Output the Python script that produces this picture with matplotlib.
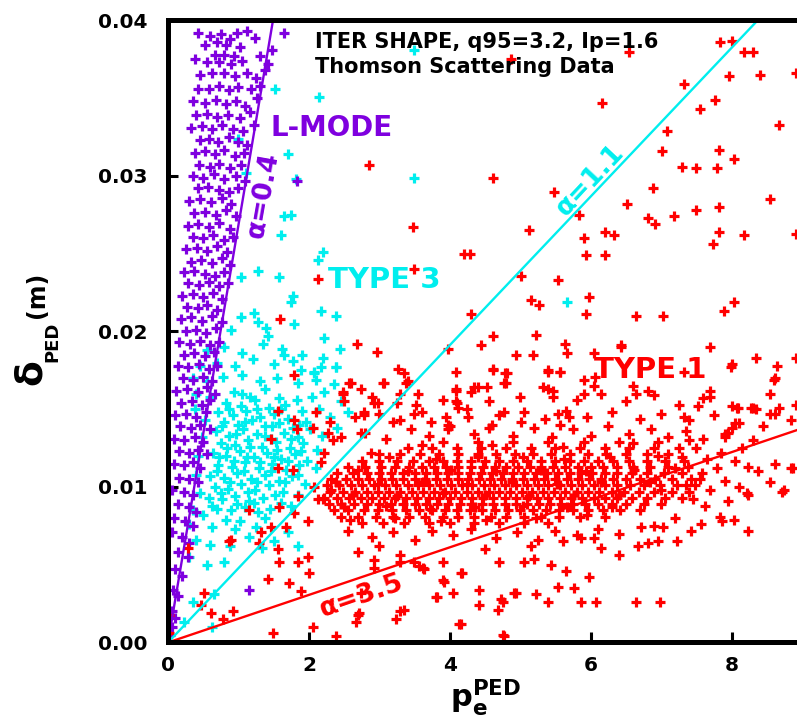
import matplotlib
matplotlib.use("Agg")
import matplotlib.pyplot as plt

PURPLE = "#7f00df"
CYAN = "#00eeee"
RED = "#ff0000"

# reference lines delta = slope * p
ALPHA_LABELS = ["α=0.4", "α=1.1", "α=3.5"]
ALPHA_SLOPES = [0.02685, 0.00478, 0.00153]

X_TICKS = [0, 2, 4, 6, 8]
Y_TICKS = [0.00, 0.01, 0.02, 0.03, 0.04]
Y_TICK_LABELS = ["0.00", "0.01", "0.02", "0.03", "0.04"]

# L-mode points (purple)
lmode_pts = [
    (0.42, 0.0392), (0.60, 0.0390), (0.75, 0.0391), (0.88, 0.0388), (0.98, 0.0392), (1.12, 0.0393),
    (1.24, 0.0389), (0.52, 0.0384), (0.70, 0.0386), (0.83, 0.0384), (1.02, 0.0383), (0.67, 0.0378),
    (0.80, 0.0378), (0.93, 0.0377), (1.48, 0.0381), (0.38, 0.0375), (0.55, 0.0373), (0.72, 0.0373),
    (0.90, 0.0372), (1.05, 0.0374), (1.30, 0.0377), (1.42, 0.0372), (0.45, 0.0365), (0.62, 0.0366),
    (0.80, 0.0366), (0.95, 0.0364), (1.12, 0.0366), (1.25, 0.0363), (1.38, 0.0368), (0.42, 0.0356),
    (0.58, 0.0356), (0.72, 0.0358), (0.86, 0.0355), (1.00, 0.0357), (1.18, 0.0356), (1.30, 0.0358),
    (0.36, 0.0348), (0.52, 0.0347), (0.68, 0.0349), (0.82, 0.0346), (0.97, 0.0348), (1.10, 0.0345),
    (1.26, 0.0350), (1.64, 0.0392), (1.83, 0.0297),
    (0.40, 0.0339), (0.55, 0.0340), (0.70, 0.0338), (0.85, 0.0339), (1.02, 0.0337), (1.17, 0.0341),
    (0.33, 0.0331), (0.48, 0.0332), (0.62, 0.0330), (0.77, 0.0333), (0.92, 0.0330), (1.07, 0.0329),
    (1.22, 0.0333), (0.45, 0.0323), (0.58, 0.0324), (0.71, 0.0322), (0.86, 0.0325), (1.00, 0.0322),
    (1.12, 0.0320), (0.38, 0.0315), (0.52, 0.0316), (0.66, 0.0314), (0.80, 0.0317), (0.95, 0.0313),
    (1.08, 0.0315), (0.44, 0.0307), (0.60, 0.0306), (0.73, 0.0308), (0.88, 0.0305), (1.03, 0.0307),
    (0.35, 0.0300), (0.50, 0.0299), (0.65, 0.0301), (0.80, 0.0298), (0.96, 0.0300), (1.10, 0.0297),
    (0.42, 0.0292), (0.57, 0.0293), (0.72, 0.0291), (0.86, 0.0290), (1.00, 0.0292), (0.30, 0.0284),
    (0.46, 0.0285), (0.61, 0.0283), (0.76, 0.0286), (0.90, 0.0282), (0.37, 0.0276), (0.52, 0.0277),
    (0.68, 0.0275), (0.83, 0.0278), (0.97, 0.0274), (0.28, 0.0268), (0.43, 0.0269), (0.58, 0.0267),
    (0.73, 0.0270), (0.88, 0.0266), (0.35, 0.0261), (0.50, 0.0260), (0.64, 0.0262), (0.79, 0.0259),
    (0.92, 0.0261), (0.26, 0.0253), (0.41, 0.0254), (0.56, 0.0252), (0.70, 0.0255), (0.84, 0.0251),
    (0.32, 0.0245), (0.47, 0.0246), (0.62, 0.0244), (0.76, 0.0247), (0.88, 0.0243),
    (0.22, 0.0238), (0.37, 0.0239), (0.52, 0.0237), (0.66, 0.0236), (0.80, 0.0238), (0.29, 0.0231),
    (0.44, 0.0230), (0.58, 0.0232), (0.72, 0.0229), (0.85, 0.0231), (0.20, 0.0223), (0.35, 0.0224),
    (0.50, 0.0222), (0.64, 0.0225), (0.77, 0.0221), (0.27, 0.0216), (0.42, 0.0215), (0.56, 0.0217),
    (0.70, 0.0214), (0.18, 0.0208), (0.33, 0.0209), (0.48, 0.0207), (0.62, 0.0210), (0.76, 0.0206),
    (0.25, 0.0200), (0.40, 0.0201), (0.54, 0.0199), (0.68, 0.0202), (0.16, 0.0193), (0.31, 0.0192),
    (0.46, 0.0194), (0.60, 0.0191), (0.72, 0.0193), (0.22, 0.0185), (0.37, 0.0186), (0.52, 0.0184),
    (0.65, 0.0187),
    (0.14, 0.0178), (0.29, 0.0177), (0.44, 0.0179), (0.58, 0.0176), (0.70, 0.0178), (0.21, 0.0170),
    (0.36, 0.0169), (0.50, 0.0171), (0.63, 0.0168), (0.12, 0.0162), (0.27, 0.0163), (0.42, 0.0161),
    (0.56, 0.0164), (0.67, 0.0160), (0.19, 0.0154), (0.34, 0.0155), (0.48, 0.0153), (0.60, 0.0156),
    (0.10, 0.0146), (0.25, 0.0147), (0.40, 0.0145), (0.54, 0.0148), (0.17, 0.0139), (0.32, 0.0138),
    (0.46, 0.0140), (0.60, 0.0137), (0.08, 0.0131), (0.23, 0.0130), (0.38, 0.0132), (0.50, 0.0129),
    (0.15, 0.0123), (0.30, 0.0122), (0.43, 0.0124), (0.55, 0.0121),
    (0.08, 0.0115), (0.22, 0.0114), (0.36, 0.0116), (0.46, 0.0112), (0.15, 0.0106), (0.30, 0.0105),
    (0.42, 0.0103), (0.05, 0.0098), (0.22, 0.0097), (0.35, 0.0095), (0.14, 0.0089), (0.30, 0.0087),
    (0.40, 0.0084), (0.08, 0.0080), (0.24, 0.0078), (0.35, 0.0075), (0.05, 0.0071), (0.20, 0.0068),
    (0.30, 0.0064), (0.14, 0.0058), (0.28, 0.0055), (0.10, 0.0047), (0.20, 0.0043), (0.07, 0.0034),
    (0.14, 0.0030), (0.05, 0.0020), (0.10, 0.0016), (0.06, 0.0010), (0.03, 0.0005), (1.15, 0.0034),
]

# Type 3 points (cyan): dense core and scattered halo
type3_core = [
    (0.93, 0.0161), (1.17, 0.0158), (1.38, 0.0163), (1.57, 0.0157),
    (0.82, 0.0154), (1.03, 0.0152), (1.24, 0.0156), (1.44, 0.0151), (1.66, 0.0153), (1.83, 0.0156),
    (0.71, 0.0148), (0.92, 0.0146), (1.11, 0.0149), (1.30, 0.0145), (1.51, 0.0147), (1.70, 0.0144),
    (1.90, 0.0149), (0.79, 0.0142), (0.99, 0.0140), (1.19, 0.0143), (1.37, 0.0139), (1.58, 0.0141),
    (1.77, 0.0138), (1.96, 0.0142), (0.68, 0.0136), (0.87, 0.0133), (1.07, 0.0137), (1.26, 0.0134),
    (1.46, 0.0131), (1.64, 0.0135), (1.84, 0.0132), (2.02, 0.0137), (0.75, 0.0128), (0.95, 0.0127),
    (1.14, 0.0130), (1.34, 0.0126), (1.53, 0.0129), (1.73, 0.0125), (1.91, 0.0128), (0.64, 0.0122),
    (0.83, 0.0120), (1.02, 0.0123), (1.22, 0.0119), (1.41, 0.0122), (1.61, 0.0118), (1.80, 0.0121),
    (1.98, 0.0117), (0.71, 0.0114), (0.91, 0.0113), (1.09, 0.0116), (1.29, 0.0112), (1.48, 0.0115),
    (1.68, 0.0111), (1.86, 0.0114), (0.60, 0.0107), (0.79, 0.0106), (0.98, 0.0109), (1.18, 0.0105),
    (1.37, 0.0108), (1.57, 0.0104), (1.76, 0.0107), (0.66, 0.0100), (0.85, 0.0099), (1.04, 0.0102),
    (1.24, 0.0098), (1.44, 0.0101), (1.63, 0.0097), (0.58, 0.0093), (0.76, 0.0092), (0.95, 0.0094),
    (1.15, 0.0091), (1.35, 0.0093), (0.70, 0.0086), (0.90, 0.0085), (1.10, 0.0087), (1.28, 0.0084),
    (0.82, 0.0079), (1.02, 0.0078),
    (1.05, 0.0160), (1.27, 0.0150), (0.86, 0.0150), (1.60, 0.0150), (1.09, 0.0142), (1.48, 0.0139),
    (1.86, 0.0140), (0.77, 0.0139), (0.97, 0.0134), (1.37, 0.0133), (1.75, 0.0131), (1.17, 0.0126),
    (0.84, 0.0125), (1.55, 0.0124), (1.89, 0.0123), (0.72, 0.0119), (1.12, 0.0119), (1.50, 0.0119),
    (1.30, 0.0116), (0.94, 0.0117), (1.70, 0.0117), (0.70, 0.0110), (1.08, 0.0110), (1.46, 0.0110),
    (1.85, 0.0108), (0.88, 0.0103), (1.27, 0.0103), (1.66, 0.0103), (0.75, 0.0096), (1.13, 0.0097),
    (1.52, 0.0095), (0.98, 0.0089), (0.62, 0.0088), (1.22, 0.0090),
]

type3_halo = [
    (0.35, 0.0170), (0.55, 0.0168), (0.78, 0.0171), (1.05, 0.0172), (1.30, 0.0168), (1.55, 0.0170),
    (1.85, 0.0167), (2.10, 0.0169), (2.35, 0.0166), (0.45, 0.0178), (0.70, 0.0180), (0.95, 0.0178),
    (1.20, 0.0182), (1.50, 0.0179), (1.78, 0.0181), (2.07, 0.0174), (2.38, 0.0177), (0.40, 0.0160),
    (0.60, 0.0158), (2.05, 0.0158), (2.22, 0.0161), (2.45, 0.0155), (0.38, 0.0150), (0.52, 0.0143),
    (2.15, 0.0150), (2.30, 0.0145), (2.55, 0.0148), (0.48, 0.0132), (0.42, 0.0120), (2.18, 0.0133),
    (2.40, 0.0138), (2.12, 0.0124), (0.40, 0.0108), (0.45, 0.0096), (1.95, 0.0102), (2.10, 0.0112),
    (1.85, 0.0095), (0.35, 0.0085), (0.50, 0.0082), (1.45, 0.0086), (1.60, 0.0090), (1.75, 0.0088),
    (0.30, 0.0076), (0.62, 0.0074), (0.95, 0.0073), (1.38, 0.0080), (1.25, 0.0074), (0.40, 0.0066),
    (0.60, 0.0063), (0.88, 0.0062), (1.15, 0.0068), (1.70, 0.0071), (0.30, 0.0055), (0.55, 0.0050),
    (0.80, 0.0052), (1.33, 0.0061), (0.65, 0.0031), (0.35, 0.0026), (0.22, 0.0013), (0.62, 0.0010),
    (0.55, 0.0188), (0.80, 0.0190), (1.05, 0.0186), (1.35, 0.0192), (1.62, 0.0189), (1.90, 0.0185),
    (2.20, 0.0183), (1.84, 0.0062), (1.50, 0.0065),
    (2.14, 0.0351), (3.49, 0.0381), (3.49, 0.0299), (1.74, 0.0275), (1.65, 0.0274), (1.60, 0.0262),
    (2.20, 0.0251), (2.13, 0.0246), (1.77, 0.0223), (1.74, 0.0219), (2.17, 0.0213), (2.38, 0.0210),
    (1.79, 0.0205), (2.21, 0.0196), (2.44, 0.0189), (5.67, 0.0219), (1.52, 0.0356), (1.00, 0.0324),
    (1.70, 0.0314), (1.82, 0.0298), (1.11, 0.0302), (1.28, 0.0239), (1.58, 0.0235), (1.04, 0.0235),
    (1.22, 0.0212), (1.04, 0.0209), (1.28, 0.0206), (1.39, 0.0202), (1.42, 0.0197), (0.89, 0.0201),
    (2.17, 0.0177), (2.38, 0.0177), (1.89, 0.0175), (2.07, 0.0173), (1.65, 0.0185),
]

# Type 1 points (red): dense band, given as rows (delta, [p values])
type1_core_rows = [
    (0.0077, [2.75, 3.05, 3.35, 3.7, 4.0, 4.35, 4.7, 5.05, 5.4]),
    (0.0081, [2.45, 2.7, 2.95, 3.2, 3.42, 3.65, 3.9, 4.12, 4.35, 4.58, 4.8, 5.05, 5.3, 5.55, 5.85, 6.2]),
    (0.0085, [2.35, 2.55, 2.78, 2.98, 3.18, 3.38, 3.56, 3.75, 3.93, 4.1, 4.28, 4.46, 4.64, 4.82, 5.0,
              5.18, 5.36, 5.55, 5.75, 5.96, 6.18, 6.42, 6.7]),
    (0.0089, [2.28, 2.46, 2.64, 2.82, 3.0, 3.16, 3.33, 3.5, 3.66, 3.82, 3.98, 4.14, 4.3, 4.46, 4.62,
              4.78, 4.94, 5.1, 5.26, 5.42, 5.58, 5.75, 5.92, 6.1, 6.3, 6.5, 6.75, 7.0]),
    (0.0093, [2.22, 2.4, 2.57, 2.74, 2.9, 3.06, 3.22, 3.38, 3.54, 3.7, 3.85, 4.0, 4.16, 4.32, 4.47,
              4.62, 4.78, 4.94, 5.09, 5.24, 5.4, 5.56, 5.72, 5.88, 6.04, 6.2, 6.38, 6.58, 6.8, 7.05, 7.3]),
    (0.0097, [2.3, 2.48, 2.66, 2.82, 2.98, 3.14, 3.3, 3.46, 3.62, 3.78, 3.93, 4.08, 4.24, 4.4, 4.55,
              4.7, 4.86, 5.02, 5.17, 5.32, 5.48, 5.64, 5.8, 5.96, 6.12, 6.3, 6.48, 6.68, 6.9, 7.15, 7.4]),
    (0.0101, [2.25, 2.43, 2.6, 2.76, 2.92, 3.08, 3.24, 3.4, 3.55, 3.7, 3.86, 4.02, 4.17, 4.32, 4.48,
              4.63, 4.78, 4.94, 5.1, 5.25, 5.4, 5.56, 5.72, 5.88, 6.04, 6.2, 6.38, 6.56, 6.76, 6.98,
              7.22, 7.48]),
    (0.0105, [2.32, 2.52, 2.7, 2.86, 3.02, 3.18, 3.34, 3.5, 3.65, 3.8, 3.96, 4.11, 4.26, 4.42, 4.57,
              4.72, 4.88, 5.04, 5.19, 5.34, 5.5, 5.66, 5.82, 5.98, 6.14, 6.32, 6.5, 6.7, 6.92, 7.16, 7.42]),
    (0.0109, [2.4, 2.62, 2.82, 3.0, 3.17, 3.33, 3.5, 3.66, 3.82, 3.97, 4.12, 4.28, 4.44, 4.6, 4.75,
              4.9, 5.06, 5.22, 5.38, 5.54, 5.7, 5.86, 6.02, 6.2, 6.38, 6.58, 6.8, 7.04, 7.3, 7.58]),
    (0.0113, [2.55, 2.8, 3.02, 3.22, 3.42, 3.6, 3.78, 3.95, 4.12, 4.3, 4.47, 4.64, 4.8, 4.97, 5.14,
              5.3, 5.47, 5.64, 5.82, 6.0, 6.18, 6.38, 6.6, 6.84, 7.1, 7.38]),
    (0.0117, [2.75, 3.0, 3.25, 3.48, 3.7, 3.9, 4.1, 4.3, 4.5, 4.7, 4.9, 5.1, 5.3, 5.5, 5.7, 5.9, 6.1,
              6.32, 6.55, 6.8, 7.05, 7.32]),
    (0.0121, [3.0, 3.3, 3.58, 3.85, 4.12, 4.4, 4.66, 4.92, 5.18, 5.44, 5.7, 5.96, 6.22, 6.5, 6.8, 7.1]),
    (0.0125, [3.4, 3.75, 4.1, 4.45, 4.8, 5.15, 5.5, 5.85, 6.2, 6.55, 6.9, 7.25]),
    (0.0129, [3.9, 4.4, 4.9, 5.4, 5.9, 6.4, 6.95]),
]

# extra Type 1 points between the core rows
type1_core_fill = [
    (2.58, 0.0079), (3.22, 0.0080), (3.88, 0.0078), (4.52, 0.0079), (5.22, 0.0080), (5.95, 0.0082),
    (2.5, 0.0087), (3.1, 0.0088), (3.72, 0.0086), (4.36, 0.0087), (5.04, 0.0088), (5.66, 0.0087),
    (6.3, 0.0087), (2.62, 0.0095), (3.25, 0.0094), (3.9, 0.0096), (4.5, 0.0095), (5.12, 0.0094),
    (5.76, 0.0095), (6.4, 0.0095), (7.0, 0.0098), (2.38, 0.0103), (2.98, 0.0102), (3.62, 0.0103),
    (4.24, 0.0102), (4.88, 0.0103), (5.52, 0.0102), (6.14, 0.0103), (6.84, 0.0103), (2.7, 0.0111),
    (3.4, 0.0110), (4.02, 0.0111), (4.66, 0.0110), (5.3, 0.0111), (5.94, 0.0110), (6.62, 0.0111),
    (7.2, 0.0112), (3.14, 0.0119), (3.8, 0.0118), (4.4, 0.0119), (5.04, 0.0119), (5.62, 0.0118),
    (6.28, 0.0119), (6.96, 0.0120), (3.6, 0.0127), (4.6, 0.0127), (5.6, 0.0126), (6.6, 0.0128),
]

type1_halo = [
    (2.45, 0.0132), (2.8, 0.0135), (3.1, 0.0131), (3.45, 0.0137), (3.7, 0.0133), (4.0, 0.0139),
    (4.35, 0.0134), (4.6, 0.0140), (4.9, 0.0133), (5.2, 0.0138), (5.45, 0.0132), (5.75, 0.0137),
    (6.0, 0.0133), (6.25, 0.0139), (6.55, 0.0134), (6.85, 0.0137), (7.1, 0.0132), (7.35, 0.0136),
    (7.6, 0.0131), (7.9, 0.0134), (2.3, 0.0142), (2.65, 0.0145), (3.0, 0.0147), (3.3, 0.0143),
    (3.6, 0.0148), (3.95, 0.0145), (4.25, 0.0150), (4.7, 0.0146), (5.05, 0.0148), (5.35, 0.0144),
    (5.65, 0.0149), (5.95, 0.0145), (6.3, 0.0148), (6.7, 0.0144), (7.0, 0.0147), (7.4, 0.0143),
    (7.75, 0.0146), (8.1, 0.0141), (8.45, 0.0139), (2.5, 0.0155), (2.9, 0.0158), (3.25, 0.0154),
    (3.55, 0.0160), (3.9, 0.0156), (4.3, 0.0161), (4.55, 0.0155), (5.0, 0.0158), (5.4, 0.0163),
    (5.8, 0.0156), (6.15, 0.0160), (6.5, 0.0155), (6.9, 0.0159), (7.25, 0.0153), (7.6, 0.0157),
    (8.0, 0.0152), (8.35, 0.0150), (3.4, 0.0168), (4.8, 0.0167), (5.9, 0.0169), (6.6, 0.0165),
    (7.7, 0.0162), (8.55, 0.0147), (8.85, 0.0143),
    (7.5, 0.0125), (7.65, 0.0118), (7.8, 0.0112), (7.55, 0.0105), (7.7, 0.0098), (7.9, 0.0104),
    (8.05, 0.0117), (7.45, 0.0092), (7.62, 0.0088), (8.1, 0.0100), (7.85, 0.0122), (7.4, 0.0130),
    (7.3, 0.0119), (7.35, 0.0101), (7.95, 0.0091), (8.15, 0.0125),
    (2.55, 0.0072), (2.9, 0.0068), (3.2, 0.0071), (3.5, 0.0066), (3.75, 0.0072), (4.05, 0.0069),
    (4.3, 0.0073), (4.65, 0.0067), (4.95, 0.0071), (5.25, 0.0066), (5.5, 0.0072), (5.8, 0.0069),
    (6.1, 0.0073), (6.4, 0.0070), (6.9, 0.0075), (7.2, 0.0080), (3.0, 0.0062), (4.5, 0.0060),
    (5.15, 0.0062), (2.7, 0.0058), (6.4, 0.0056),
]

type1_sparse = [
    (7.84, 0.0386), (8.01, 0.0387), (8.17, 0.0380), (8.30, 0.0380), (6.55, 0.0380), (4.87, 0.0375),
    (7.32, 0.0359), (7.97, 0.0364), (8.40, 0.0365), (8.91, 0.0366), (6.16, 0.0347), (7.55, 0.0343),
    (7.76, 0.0349), (8.67, 0.0333), (7.09, 0.0329), (2.85, 0.0307), (4.62, 0.0299), (7.01, 0.0316),
    (7.82, 0.0317), (8.04, 0.0311), (7.29, 0.0306), (7.49, 0.0305), (7.80, 0.0305), (5.48, 0.0290),
    (6.89, 0.0292), (6.52, 0.0282), (7.50, 0.0278), (7.82, 0.0280), (8.55, 0.0285), (5.84, 0.0275),
    (3.48, 0.0267), (5.12, 0.0265), (6.82, 0.0273), (6.92, 0.0269), (7.18, 0.0274), (5.90, 0.0260),
    (6.21, 0.0264), (6.33, 0.0262), (7.82, 0.0264), (8.17, 0.0262), (8.91, 0.0263), (7.74, 0.0256),
    (4.20, 0.0250), (4.28, 0.0250), (5.94, 0.0249), (6.21, 0.0249), (5.01, 0.0236), (5.53, 0.0233),
    (2.13, 0.0234), (3.49, 0.0240), (5.15, 0.0220), (5.26, 0.0217), (5.97, 0.0222), (5.93, 0.0211),
    (6.64, 0.0210), (7.02, 0.0210), (7.89, 0.0213), (8.03, 0.0219), (4.30, 0.0211), (2.68, 0.0192),
    (2.96, 0.0187), (4.61, 0.0197), (4.44, 0.0191), (5.23, 0.0198), (5.63, 0.0192), (5.67, 0.0186),
    (6.43, 0.0190), (7.70, 0.0190), (4.94, 0.0185), (5.18, 0.0185), (8.01, 0.0179), (8.34, 0.0183),
    (8.65, 0.0178), (8.91, 0.0183), (3.26, 0.0176), (3.35, 0.0173), (4.62, 0.0175), (4.79, 0.0173),
    (5.39, 0.0175), (5.57, 0.0174), (7.32, 0.0174), (8.62, 0.0170), (3.97, 0.0189), (1.59, 0.0208),
    (2.60, 0.0167), (3.06, 0.0167), (3.38, 0.0167), (1.79, 0.0172), (6.04, 0.0186), (7.99, 0.0177),
    (8.60, 0.0169), (8.55, 0.0160), (8.67, 0.0151), (8.62, 0.0147), (8.30, 0.0151), (8.07, 0.0151),
    (7.69, 0.0158), (7.53, 0.0152), (7.32, 0.0145), (6.43, 0.0191), (8.87, 0.0112), (8.72, 0.0097),
    (8.62, 0.0115), (8.55, 0.0103), (8.38, 0.0110), (8.24, 0.0113), (8.22, 0.0096), (8.24, 0.0072),
    (8.03, 0.0079), (7.95, 0.0135), (8.00, 0.0138), (8.05, 0.0141), (7.90, 0.0132), (8.31, 0.0130),
    (8.84, 0.0112), (8.74, 0.0098), (8.24, 0.0095), (7.84, 0.0081), (7.02, 0.0074), (7.42, 0.0072),
    (6.71, 0.0074), (7.87, 0.0078), (7.56, 0.0076), (8.91, 0.0153), (6.64, 0.0160), (6.81, 0.0162),
    (8.09, 0.0151), (8.27, 0.0151),
    (5.86, 0.0026), (6.07, 0.0026), (6.64, 0.0026), (6.98, 0.0026), (5.97, 0.0042), (5.65, 0.0046),
    (5.76, 0.0035), (6.14, 0.0061), (6.67, 0.0062), (6.82, 0.0064), (6.96, 0.0065), (7.23, 0.0065),
    (6.04, 0.0067), (5.86, 0.0067), (4.41, 0.0034), (4.41, 0.0024), (4.72, 0.0028), (4.68, 0.0021),
    (4.94, 0.0032), (5.22, 0.0031), (5.39, 0.0026), (4.04, 0.0032), (3.92, 0.0039), (3.80, 0.0029),
    (4.16, 0.0045), (4.13, 0.0012), (4.77, 0.0004), (4.70, 0.0052), (5.05, 0.0052), (5.19, 0.0054),
    (5.43, 0.0050), (5.53, 0.0036), (3.90, 0.0052), (3.63, 0.0047), (3.35, 0.0021), (5.60, 0.0065),
    (3.30, 0.0056), (3.30, 0.0052), (2.92, 0.0053), (3.62, 0.0048), (4.18, 0.0045), (3.91, 0.0040),
    (3.82, 0.0029), (3.30, 0.0020), (3.23, 0.0015), (2.67, 0.0013), (2.71, 0.0019), (2.38, 0.0004),
    (4.16, 0.0012), (4.75, 0.0005), (4.75, 0.0026), (4.91, 0.0032), (3.49, 0.0052), (3.56, 0.0049),
    (0.89, 0.0066), (1.56, 0.0060), (1.57, 0.0052), (1.84, 0.0052), (1.99, 0.0055), (1.42, 0.0041),
    (1.72, 0.0038), (1.89, 0.0033), (2.00, 0.0045), (1.32, 0.0071), (1.29, 0.0064), (0.87, 0.0065),
    (0.61, 0.0019), (0.78, 0.0015), (0.92, 0.0020), (0.47, 0.0024), (0.51, 0.0032), (0.02, 0.0018),
    (1.49, 0.0006), (2.06, 0.0010), (2.70, 0.0018), (2.74, 0.0032), (2.92, 0.0048), (0.02, 0.0006),
    (0.28, 0.0061),
    (1.56, 0.0149), (2.10, 0.0148), (1.79, 0.0143), (1.83, 0.0137), (2.06, 0.0138), (1.46, 0.0131),
    (2.27, 0.0135), (2.34, 0.0130), (1.56, 0.0112), (1.77, 0.0111), (2.48, 0.0160), (2.74, 0.0163),
    (2.57, 0.0167), (2.78, 0.0148), (2.92, 0.0154), (2.74, 0.0135), (2.88, 0.0122), (2.21, 0.0122),
    (2.17, 0.0116), (2.07, 0.0100), (2.13, 0.0092), (1.84, 0.0094), (1.79, 0.0083), (1.99, 0.0078),
    (1.67, 0.0074), (1.46, 0.0074), (1.15, 0.0085), (1.57, 0.0087), (2.20, 0.0092), (2.31, 0.0098),
    (2.49, 0.0161), (3.05, 0.0167), (3.30, 0.0160), (3.52, 0.0153), (3.49, 0.0147), (2.98, 0.0154),
    (2.78, 0.0146), (3.19, 0.0142), (4.09, 0.0163), (4.34, 0.0164), (4.53, 0.0164), (4.77, 0.0167),
    (4.10, 0.0154), (4.11, 0.0151), (4.26, 0.0145), (4.77, 0.0148), (3.73, 0.0142), (3.97, 0.0140),
    (3.97, 0.0137), (5.01, 0.0142), (4.55, 0.0138), (5.33, 0.0164), (5.46, 0.0158), (5.53, 0.0147),
    (5.69, 0.0145), (5.57, 0.0140), (4.09, 0.0174), (4.62, 0.0176), (4.81, 0.0173), (5.39, 0.0174),
    (5.57, 0.0174), (6.06, 0.0171), (6.04, 0.0165), (5.90, 0.0160), (5.46, 0.0162), (4.09, 0.0162),
    (4.40, 0.0164), (4.09, 0.0155),
]


def split(pts):
    return [p[0] for p in pts], [p[1] for p in pts]


def main():
    plt.rcParams["font.family"] = ["DejaVu Sans"]
    plt.rcParams["font.weight"] = "bold"
    plt.rcParams["mathtext.default"] = "bf"

    fig = plt.figure(figsize=(7.97, 7.19), dpi=100)
    ax = fig.add_axes([0.2108, 0.1064, 0.7955, 0.8651])
    ax.set_xlim(0, 9)
    ax.set_ylim(0, 0.04)

    mk = dict(linestyle="none", marker="+", markersize=7.5, markeredgewidth=2.3)

    x, y = split(type3_core + type3_halo)
    ax.plot(x, y, color=CYAN, **mk)
    x, y = split(lmode_pts)
    ax.plot(x, y, color=PURPLE, **mk)

    core = [(px, dy) for dy, row in type1_core_rows for px in row]
    x, y = split(core + type1_core_fill + type1_halo + type1_sparse)
    ax.plot(x, y, color=RED, **mk)

    # alpha lines through the origin
    for slope, col in zip(ALPHA_SLOPES, [PURPLE, CYAN, RED]):
        ax.plot([0, 10], [0, 10 * slope], color=col, linewidth=1.7)

    lab = dict(fontweight="bold", ha="center", va="center", rotation_mode="anchor")
    ax.text(1.35, 0.0288, ALPHA_LABELS[0], color=PURPLE, fontsize=19, rotation=80, **lab)
    ax.text(5.99, 0.0297, ALPHA_LABELS[1], color=CYAN, fontsize=19, rotation=47, **lab)
    ax.text(2.75, 0.0030, ALPHA_LABELS[2], color=RED, fontsize=19, rotation=19, **lab)

    ax.text(1.46, 0.0326, "L-MODE", color=PURPLE, fontsize=20, fontweight="bold")
    ax.text(2.27, 0.0228, "TYPE 3", color=CYAN, fontsize=21, fontweight="bold")
    ax.text(6.04, 0.0170, "TYPE 1", color=RED, fontsize=21, fontweight="bold")

    ax.text(2.09, 0.0382, "ITER SHAPE, q95=3.2, Ip=1.6", fontsize=15, fontweight="bold")
    ax.text(2.09, 0.0366, "Thomson Scattering Data", fontsize=15, fontweight="bold")

    for side in ["left", "bottom", "top", "right"]:
        ax.spines[side].set_linewidth(3.6)
    ax.set_xticks(X_TICKS)
    ax.set_yticks(Y_TICKS)
    ax.set_yticklabels(Y_TICK_LABELS)
    ax.tick_params(direction="in", length=7, width=2.2, labelsize=14.5)
    ax.tick_params(axis="y", pad=15)
    ax.tick_params(axis="x", pad=10)

    # y label drawn in pieces: large delta, PED subscript, unit
    ylab = dict(rotation=90, ha="center", va="center", fontweight="bold")
    fig.text(31 / 797, 1 - 372 / 719, "δ", fontsize=27, **ylab)
    fig.text(52 / 797, 1 - 342 / 719, "PED", fontsize=13, **ylab)
    fig.text(37 / 797, 1 - 295 / 719, "(m)", fontsize=17, **ylab)

    ax.set_xlabel("p$_{\\mathbf{e}}^{\\mathbf{PED}}$", fontsize=22, fontweight="bold")
    ax.xaxis.set_label_coords(0.5, -0.055)

    fig.savefig("out.png", dpi=100, facecolor="white")
    plt.close(fig)


if __name__ == "__main__":
    main()
